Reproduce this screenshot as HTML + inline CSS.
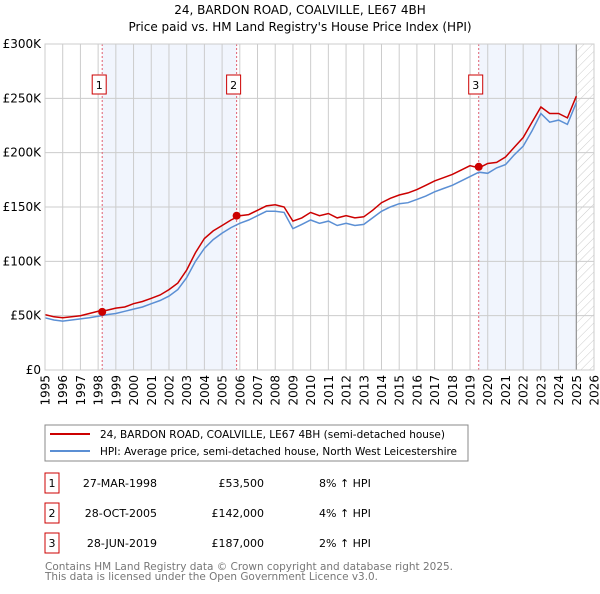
<!DOCTYPE html>
<html><head><meta charset="utf-8"><style>
body{margin:0;background:#fff;font-family:"DejaVu Sans","Liberation Sans",sans-serif;}
svg text{font-family:"DejaVu Sans","Liberation Sans",sans-serif;}
</style></head><body>
<svg id="chart" width="600" height="590" viewBox="0 0 600 590" xmlns="http://www.w3.org/2000/svg">
<defs><pattern id="hatch" width="6" height="6" patternUnits="userSpaceOnUse" patternTransform="rotate(45)"><line x1="0" y1="0" x2="0" y2="6" stroke="#ccc" stroke-width="1"/></pattern></defs>
<text x="300" y="14" text-anchor="middle" font-size="12" fill="#000">24, BARDON ROAD, COALVILLE, LE67 4BH</text>
<text x="300" y="31" text-anchor="middle" font-size="12" fill="#000">Price paid vs. HM Land Registry's House Price Index (HPI)</text>
<g id="plot"></g>
<g>
<rect x="45" y="425" width="423" height="36" fill="#fff" stroke="#888"/>
<line x1="50" y1="434" x2="90" y2="434" stroke="#cc0000" stroke-width="2"/>
<text x="100" y="438" font-size="11" textLength="345" lengthAdjust="spacingAndGlyphs">24, BARDON ROAD, COALVILLE, LE67 4BH (semi-detached house)</text>
<line x1="50" y1="451" x2="90" y2="451" stroke="#5b8fd4" stroke-width="2"/>
<text x="100" y="455" font-size="11" textLength="357" lengthAdjust="spacingAndGlyphs">HPI: Average price, semi-detached house, North West Leicestershire</text>
</g>
<g id="table"></g>
<text x="45" y="570" font-size="11" fill="#777" textLength="408" lengthAdjust="spacingAndGlyphs">Contains HM Land Registry data © Crown copyright and database right 2025.</text>
<text x="45" y="580" font-size="11" fill="#777" textLength="333" lengthAdjust="spacingAndGlyphs">This data is licensed under the Open Government Licence v3.0.</text>
</svg>
<script>
const years=[1995,1995.5,1996,1996.5,1997,1997.5,1998,1998.5,1999,1999.5,2000,2000.5,2001,2001.5,2002,2002.5,2003,2003.5,2004,2004.5,2005,2005.5,2006,2006.5,2007,2007.5,2008,2008.5,2009,2009.5,2010,2010.5,2011,2011.5,2012,2012.5,2013,2013.5,2014,2014.5,2015,2015.5,2016,2016.5,2017,2017.5,2018,2018.5,2019,2019.5,2020,2020.5,2021,2021.5,2022,2022.5,2023,2023.5,2024,2024.5,2025];
const hpiValues=[48,46,45,46,47,48,49.5,51,52,54,56,58,61,64,68,74,85,100,112,120,126,131,135,138,142,146,146,145,130,134,138,135,137,133,135,133,134,140,146,150,153,154,157,160,164,167,170,174,178,182,181,186,189,198,206,220,236,228,230,226,246];
const priceValues=[51,49,48,49,50,52,54,55,57,58,61,63,66,69,74,80,92,108,121,128,133,138,142,143,147,151,152,150,137,140,145,142,144,140,142,140,141,147,154,158,161,163,166,170,174,177,180,184,188,186,190,191,196,205,214,228,242,236,236,232,252];
const yTicks=[0,50,100,150,200,250,300];
const yTickLabels=["£0","£50K","£100K","£150K","£200K","£250K","£300K"];
const xTicks=[1995,1996,1997,1998,1999,2000,2001,2002,2003,2004,2005,2006,2007,2008,2009,2010,2011,2012,2013,2014,2015,2016,2017,2018,2019,2020,2021,2022,2023,2024,2025,2026];
const saleDates=[1998.23,2005.82,2019.49];
const salePrices=[53.5,142,187];
const saleLabels=["1","2","3"];
const saleDateText=["27-MAR-1998","28-OCT-2005","28-JUN-2019"];
const salePriceText=["£53,500","£142,000","£187,000"];
const saleHpiText=["8% ↑ HPI","4% ↑ HPI","2% ↑ HPI"];

const X0=45,X1=594,Y0=370,Y1=44;
const xs=v=>X0+(v-1995)/(2026-1995)*(X1-X0);
const ys=v=>Y0-v/300*(Y0-Y1);
const NS="http://www.w3.org/2000/svg";
const plot=document.getElementById('plot');
function mk(tag,attrs,parent){const e=document.createElementNS(NS,tag);for(const k in attrs)e.setAttribute(k,attrs[k]);(parent||plot).appendChild(e);return e;}

let r=mk('rect',{x:X0,y:Y1,width:X1-X0,height:Y0-Y1,fill:'#fff'});


const spans=[[saleDates[0],saleDates[1]],[saleDates[2],2025.0]];
spans.forEach((s,i)=>{const e=mk('rect',{x:xs(s[0]),y:Y1,width:xs(s[1])-xs(s[0]),height:Y0-Y1,fill:'#eef3fc',opacity:0.8});

});
let h=mk('rect',{x:xs(2025.05),y:Y1,width:X1-xs(2025.05),height:Y0-Y1,fill:'url(#hatch)'});


xTicks.forEach(t=>{const l=mk('line',{x1:xs(t),x2:xs(t),y1:Y1,y2:Y0,stroke:'#ccc','stroke-width':1});


const tx=mk('text',{x:0,y:0,'text-anchor':'end','font-size':12,fill:'#000',transform:'translate('+(xs(t)+4.5)+','+(Y0+5)+') rotate(-90)'});tx.textContent=t;

});
yTicks.forEach((t,i)=>{const l=mk('line',{x1:X0,x2:X1,y1:ys(t),y2:ys(t),stroke:'#ccc','stroke-width':1});


const tx=mk('text',{x:X0-4,y:ys(t)+4,'text-anchor':'end','font-size':12,fill:'#000'});tx.textContent=yTickLabels[i];

});
let nl=mk('line',{x1:xs(2025.0),x2:xs(2025.0),y1:Y1,y2:Y0,stroke:'#888','stroke-width':1});


saleDates.forEach((d,i)=>{const l=mk('line',{x1:xs(d),x2:xs(d),y1:Y1,y2:Y0,stroke:'#e06070','stroke-width':1,'stroke-dasharray':'2,2'});


const b=mk('rect',{x:xs(d)-10,y:75,width:14,height:19,fill:'#fff',stroke:'#cc0000'});


const t=mk('text',{x:xs(d)-3,y:89,'text-anchor':'middle','font-size':11});t.textContent=saleLabels[i];

});
const pts=a=>a.map((v,i)=>xs(years[i]).toFixed(1)+','+ys(v).toFixed(1)).join(' ');
let hl=mk('polyline',{points:pts(hpiValues),fill:'none',stroke:'#5b8fd4','stroke-width':1.5});


let pl=mk('polyline',{points:pts(priceValues),fill:'none',stroke:'#cc0000','stroke-width':1.5});


saleDates.forEach((d,i)=>{const c=mk('circle',{cx:xs(d),cy:ys(salePrices[i]),r:4,fill:'#cc0000'});

});
let fr=mk('rect',{x:X0,y:Y1,width:X1-X0,height:Y0-Y1,fill:'none',stroke:'#ccc'});


const tb=document.getElementById('table');
saleLabels.forEach((s,i)=>{const cy=483+i*30;
const b=mk('rect',{x:45,y:cy-10,width:14,height:20,fill:'#fff',stroke:'#cc0000'},tb);


const cells=[[s,52,'middle'],[saleDateText[i],157,'end'],[salePriceText[i],264,'end'],[saleHpiText[i],319,'start']];
cells.forEach((c,j)=>{const t=mk('text',{x:c[1],y:cy+4,'text-anchor':c[2],'font-size':11},tb);t.textContent=c[0];

});});
</script>
</body></html>
